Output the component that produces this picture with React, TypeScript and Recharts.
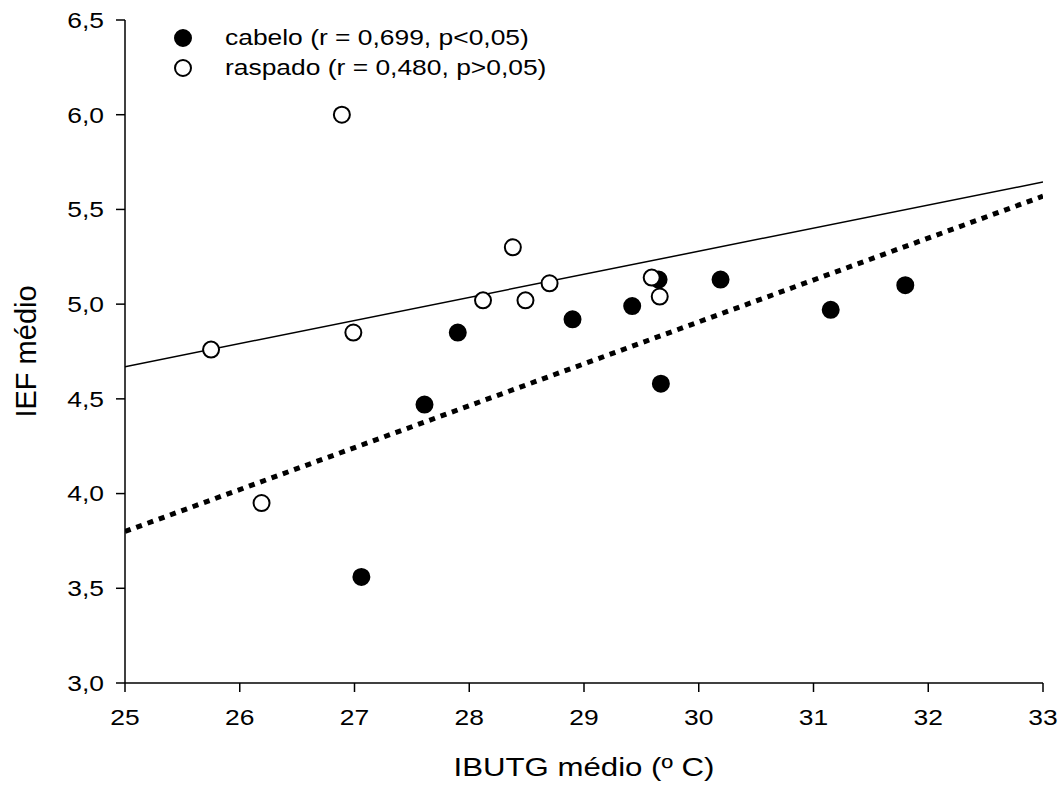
import React from "react";
import {
  ScatterChart,
  Scatter,
  XAxis,
  YAxis,
  Label,
} from "recharts";

// IBUTG médio (x) vs IEF médio (y)
const cabeloX = [27.06, 27.61, 27.9, 28.9, 29.42, 29.65, 29.67, 30.19, 31.15, 31.8];
const cabeloY = [3.56, 4.47, 4.85, 4.92, 4.99, 5.13, 4.58, 5.13, 4.97, 5.1];

const raspadoX = [25.75, 26.19, 26.89, 26.99, 28.12, 28.38, 28.49, 28.7, 29.59, 29.66];
const raspadoY = [4.76, 3.95, 6.0, 4.85, 5.02, 5.3, 5.02, 5.11, 5.14, 5.04];

// regression lines, evaluated at the axis ends
const fitX = [25, 33];
const cabeloFitY = [3.8, 5.57];
const raspadoFitY = [4.67, 5.645];

const xTicks = [25, 26, 27, 28, 29, 30, 31, 32, 33];
const yTicks = [3, 3.5, 4, 4.5, 5, 5.5, 6, 6.5];

const cabeloLabel = "cabelo (r = 0,699, p<0,05)";
const raspadoLabel = "raspado (r = 0,480, p>0,05)";

const toPoints = (xs: number[], ys: number[]) => xs.map((x, i) => ({ x, y: ys[i] }));

const cabelo = toPoints(cabeloX, cabeloY);
const raspado = toPoints(raspadoX, raspadoY);
const cabeloFit = toPoints(fitX, cabeloFitY);
const raspadoFit = toPoints(fitX, raspadoFitY);

const FONT = "'Liberation Sans', Arial, sans-serif";
const WIDE = 1.2; // horizontal stretch of the lettering

const fmtComma = (v: number) => v.toFixed(1).replace(".", ",");

const XTick = (props: any) => (
  <text
    transform={`translate(${props.x},${props.y}) scale(${WIDE},1)`}
    textAnchor="middle"
    dy="0.71em"
    fontSize={22}
    fontFamily={FONT}
    fill="#000"
  >
    {props.payload.value}
  </text>
);

const YTick = (props: any) => (
  <text
    transform={`translate(${props.x},${props.y}) scale(${WIDE},1)`}
    textAnchor="end"
    dy="0.36em"
    fontSize={22}
    fontFamily={FONT}
    fill="#000"
  >
    {fmtComma(props.payload.value)}
  </text>
);

const XTitle = (props: any) => {
  const vb = props.viewBox || {};
  const cx = vb.x + vb.width / 2;
  const by = vb.y + vb.height - 18;
  return (
    <text
      transform={`translate(${cx},${by}) scale(${WIDE},1)`}
      textAnchor="middle"
      fontSize={26}
      fontFamily={FONT}
      fill="#000"
    >
      IBUTG médio (º C)
    </text>
  );
};

const Dot = (fill: string) => (props: any) => (
  <circle cx={props.cx} cy={props.cy} r={8} fill={fill} stroke="#000" strokeWidth={2} />
);

const NoShape = () => null;

const legendText: React.CSSProperties = {
  display: "inline-block",
  transform: `scaleX(${WIDE})`,
  transformOrigin: "left center",
  whiteSpace: "nowrap",
};

export default function App() {
  return (
    <div style={{ position: "relative", width: 1063, height: 794, fontFamily: FONT }}>
      <style>{"body{margin:0}"}</style>
      <ScatterChart
        width={1063}
        height={794}
        margin={{ top: 20, right: 20, bottom: 0, left: 0 }}
      >
        <XAxis
          type="number"
          dataKey="x"
          domain={[25, 33]}
          ticks={xTicks}
          allowDataOverflow
          height={111}
          stroke="#000"
          strokeWidth={1.5}
          tickSize={9}
          tickMargin={17}
          tick={<XTick />}
        >
          <Label content={<XTitle />} />
        </XAxis>
        <YAxis
          type="number"
          dataKey="y"
          domain={[3, 6.5]}
          ticks={yTicks}
          allowDataOverflow
          width={125}
          stroke="#000"
          strokeWidth={1.5}
          tickSize={9}
          tickMargin={12}
          tick={<YTick />}
        >
          <Label
            value="IEF médio"
            angle={-90}
            position="insideLeft"
            offset={26}
            style={{ fill: "#000", fontSize: 29, fontFamily: FONT, textAnchor: "middle" }}
          />
        </YAxis>
        <Scatter
          data={raspadoFit}
          line={{ stroke: "#000", strokeWidth: 1.5 }}
          shape={NoShape}
          isAnimationActive={false}
        />
        <Scatter
          data={cabeloFit}
          line={{ stroke: "#000", strokeWidth: 5, strokeDasharray: "6 6" }}
          shape={NoShape}
          isAnimationActive={false}
        />
        <Scatter data={cabelo} shape={Dot("#000")} isAnimationActive={false} />
        <Scatter data={raspado} shape={Dot("#fff")} isAnimationActive={false} />
      </ScatterChart>

      <div
        style={{
          position: "absolute",
          left: 173,
          top: 23,
          fontSize: 22,
          color: "#000",
          lineHeight: "30px",
        }}
      >
        <div style={{ display: "flex", alignItems: "center" }}>
          <svg width={20} height={20} style={{ marginRight: 32 }}>
            <circle cx={10} cy={10} r={8} fill="#000" stroke="#000" strokeWidth={2} />
          </svg>
          <span style={legendText}>{cabeloLabel}</span>
        </div>
        <div style={{ display: "flex", alignItems: "center" }}>
          <svg width={20} height={20} style={{ marginRight: 32 }}>
            <circle cx={10} cy={10} r={8} fill="#fff" stroke="#000" strokeWidth={2} />
          </svg>
          <span style={legendText}>{raspadoLabel}</span>
        </div>
      </div>
    </div>
  );
}
